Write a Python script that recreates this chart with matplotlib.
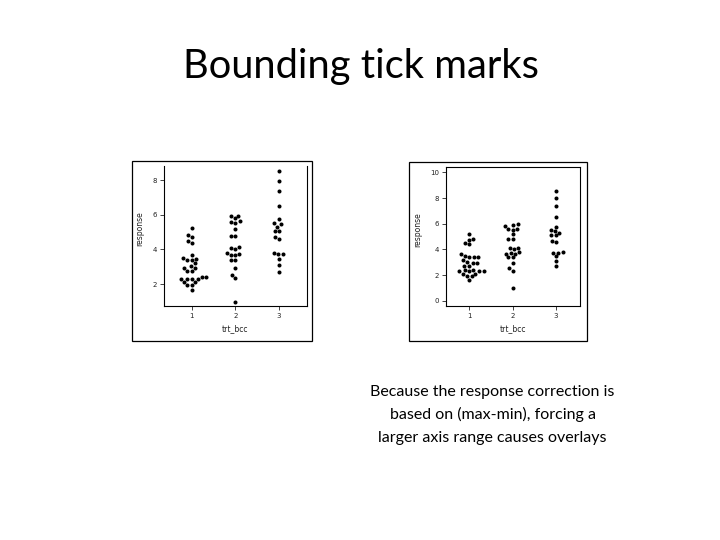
import numpy as np
import matplotlib
matplotlib.use("Agg")
import matplotlib.pyplot as plt
from matplotlib.patches import Rectangle

# ---- data ----
group_labels = ["1", "2", "3"]
resp_g1 = [5.22, 4.81, 4.73, 4.49, 4.39, 3.68, 3.41, 3.41, 3.45, 3.52, 3.19,
           2.94, 2.94, 3.03, 2.75, 2.75, 2.42, 2.30, 2.42, 2.30, 2.29, 2.29,
           2.11, 1.94, 1.94, 2.11, 1.65]
resp_g2 = [5.95, 5.80, 5.93, 5.63, 5.55, 5.59, 5.20, 4.79, 4.79, 4.10, 4.00,
           4.12, 3.75, 3.68, 3.66, 3.77, 3.39, 3.39, 2.94, 2.52, 2.33, 0.97]
resp_g3 = [8.54, 7.98, 7.40, 6.53, 5.78, 5.51, 5.45, 5.32, 5.09, 5.09, 4.70,
           4.60, 3.75, 3.72, 3.81, 3.47, 3.10, 2.71]
left_yticks = [2, 4, 6, 8]
right_yticks = [0, 2, 4, 6, 8, 10]
x_label = "trt_bcc"
y_label = "response"
title = "Bounding tick marks"
caption = ["Because the response correction is",
           "based on (max-min), forcing a",
           "larger axis range causes overlays"]

groups = [resp_g1, resp_g2, resp_g3]

W, H = 720, 540
fig = plt.figure(figsize=(7.2, 5.4), dpi=100)
fig.patch.set_facecolor("white")


def swarm_offsets(vals, px_per_y, d):
    ypx = np.asarray(vals, float) * px_per_y
    order = np.argsort(ypx, kind="stable")
    xs = np.zeros(len(ypx))
    placed = []
    for i in order:
        y = ypx[i]
        cands = [0.0]
        for xj, yj in placed:
            dy = y - yj
            if abs(dy) < d:
                dx = np.sqrt(d * d - dy * dy)
                cands += [xj + dx, xj - dx]
        cands = sorted(cands, key=lambda c: (abs(c), c))
        chosen = cands[0]
        for c in cands:
            if all((c - xj) ** 2 + (y - yj) ** 2 >= d * d - 1e-6 for xj, yj in placed):
                chosen = c
                break
        xs[i] = chosen
        placed.append((chosen, y))
    return xs


def fig_rect(x0, y0, x1, y1):
    return [x0 / W, 1 - y1 / H, (x1 - x0) / W, (y1 - y0) / H]


def panel(ax_px, border_px, ylim, yticks, xlim, show_top, ylab_x):
    bx0, by0, bx1, by1 = border_px
    fig.add_artist(Rectangle((bx0 / W, 1 - by1 / H), (bx1 - bx0) / W, (by1 - by0) / H,
                             transform=fig.transFigure, fill=False,
                             edgecolor="black", lw=0.9))
    ax = fig.add_axes(fig_rect(*ax_px))
    ax.set_xlim(*xlim)
    ax.set_ylim(*ylim)
    fig.canvas.draw()
    t0 = ax.transData.transform((0, 0))
    t1 = ax.transData.transform((1, 1))
    px_x = t1[0] - t0[0]
    px_y = t1[1] - t0[1]
    for gi, vals in enumerate(groups):
        offs = swarm_offsets(vals, px_y, 4.4) / px_x
        ax.plot(gi + 1 + offs, vals, "o", color="black", ms=2.9, mew=0)
    ax.set_xticks([1, 2, 3])
    ax.set_xticklabels(group_labels)
    ax.set_yticks(yticks)
    for s in ["left", "bottom", "right", "top"]:
        ax.spines[s].set_linewidth(0.8)
    ax.spines["top"].set_visible(show_top)
    ax.tick_params(length=3, width=0.6, labelsize=5, pad=2, colors="#222222")
    ax.set_xlabel(x_label, fontsize=5.5, labelpad=4, color="#222222")
    ax.set_ylabel(y_label, fontsize=5.5, color="#222222")
    ax.yaxis.set_label_coords(ylab_x, 0.55)
    return ax


panel((164, 166, 307, 306), (132, 161, 312, 341), (0.73, 8.83), left_yticks,
      (0.366, 3.64), False, -0.135)
panel((445.7, 167.3, 579.6, 306), (408.5, 162, 587, 341), (-0.4, 10.4), right_yticks,
      (0.455, 3.55), True, -0.175)

fig.text(360.5 / W, 1 - 78 / H, title, ha="center", va="baseline",
         fontsize=28.7, family=["Lato", "DejaVu Sans"], color="black")

for i, line in enumerate(caption):
    fig.text(492.5 / W, 1 - (396 + 23 * i) / H, line, ha="center", va="baseline",
             fontsize=11.5, family=["Lato", "DejaVu Sans"], color="black")

fig.savefig("out.png", dpi=100, facecolor="white")
